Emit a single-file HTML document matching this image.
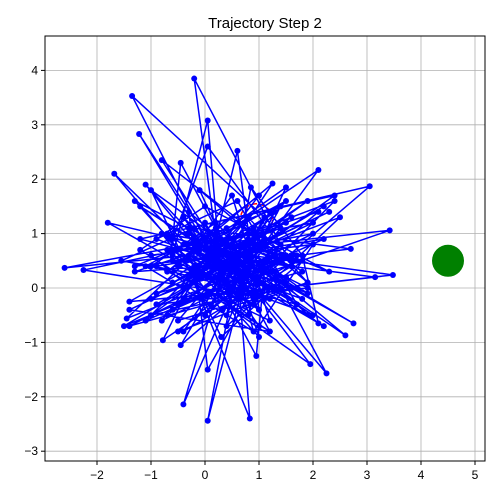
<!DOCTYPE html>
<html><head><meta charset="utf-8"><style>
body{margin:0;background:#fff;}
svg{display:block;font-family:"Liberation Sans",sans-serif;}
</style></head><body>
<svg id="c" width="500" height="500">
<rect width="500" height="500" fill="#fff"/>
<text x="265" y="28" text-anchor="middle" font-size="15">Trajectory Step 2</text>
<g id="grid"></g><g id="marks"></g><g id="ticks"></g>
<rect x="45" y="36" width="440" height="425" fill="none" stroke="#000" stroke-width="1"/>
</svg>
<script>
const xTicks=[-2,-1,0,1,2,3,4,5];
const yTicks=[-3,-2,-1,0,1,2,3,4];
const goal=[4.5,0.5];
const target=[0.95,1.25,0.3];
const xs=[-0.2,0.8,-2.6,-0.3,1.2,-2.25,0.5,1.6,-1.8,0.9,-0.5,-1.68,0.4,1.1,-1.35,0.2,-1.22,0.7,1.4,-0.2,0.3,0.05,-0.6,1.0,0.6,0.2,2.1,0.5,-0.3,3.05,1.2,3.42,0.1,3.48,-0.4,3.15,0.8,2.75,0.0,2.6,1.3,2.25,0.4,1.95,-0.2,0.83,0.6,0.05,0.9,-0.4,0.3,-0.45,1.5,-1.45,0.2,-0.78,1.1,0.95,-0.1,-1.1,0.7,-0.8,1.6,0.05,-0.6,-0.45,0.9,2.5,0.1,2.7,-0.2,-1.55,1.3,-1.4,0.5,1.25,-0.7,1.5,0.4,0.85,1.8,2.1,-0.3,0.05,1.0,-0.9,0.6,1.7,-1.0,0.2,1.4,-0.5,0.8,2.3,0.0,-1.2,1.2,0.5,-0.1,1.9,0.3,-0.8,1.6,0.7,-0.4,1.0,2.0,-1.3,0.4,0.9,-0.2,1.5,0.2,-0.7,1.1,0.6,1.8,-0.5,0.3,1.3,-1.0,0.8,0.1,1.7,-0.3,0.5,1.2,-0.9,2.2,0.4,0.0,1.0,-0.6,1.4,0.7,-0.1,1.9,0.2,-1.1,0.9,0.5,1.6,-0.4,0.3,1.1,0.8,-0.8,1.3,0.0,2.4,0.6,-0.2,1.5,-0.6,1.0,0.4,1.8,-0.3,0.7,1.2,0.1,-1.0,0.9,0.5,1.4,-0.5,2.0,0.2,0.8,-0.1,1.1,0.6,1.7,-0.7,0.3,1.3,0.0,0.9,-0.4,1.6,0.4,1.0,
-1.3,1.9,-0.9,2.2,-1.5,1.7,-0.6,2.4,-1.2,1.5,
0.3,-1.0,1.8,-0.7,2.0,-1.4,1.2,-0.3,2.3,-0.9,
1.6,-1.1,0.8,1.9,-0.5,2.1,-1.3,1.4,-0.8,1.0,
-0.2,1.7,-1.2,2.2,-0.4,1.3,-1.0,1.9,0.1,1.5,
-1.4,2.0,-0.6,1.1,-0.9,2.4,-0.3,1.6,-1.1,0.7];
const ys=[0.3,1.0,0.37,0.6,-0.2,0.33,0.9,0.4,1.2,-0.3,0.7,2.1,0.1,1.3,3.53,0.5,2.83,-0.1,0.8,3.85,0.2,3.08,0.6,-0.4,2.52,0.9,2.17,0.0,1.1,1.87,0.3,1.06,0.7,0.24,-0.2,0.2,0.5,-0.65,0.9,-0.87,0.2,-1.57,0.6,-1.4,0.1,-2.4,0.4,-2.44,0.8,-2.14,0.2,-1.05,0.6,-0.56,1.0,-0.96,0.3,-1.25,0.7,1.9,0.0,2.35,0.5,2.6,0.9,2.3,-0.2,1.3,0.4,0.72,1.1,0.5,0.0,-0.25,0.8,1.92,0.3,1.85,-0.5,1.85,0.6,-0.65,1.4,-1.5,0.2,0.9,1.6,-0.3,0.4,1.2,0.0,-0.6,0.9,0.3,1.5,0.7,-0.8,0.5,1.8,0.1,-0.4,1.0,0.6,0.2,1.3,-0.7,0.8,0.4,1.1,-0.1,0.7,1.6,0.2,-0.5,0.9,1.2,0.3,-0.3,0.8,1.4,-0.2,0.5,1.0,0.0,0.6,1.7,-0.6,0.4,0.9,0.1,1.2,-0.4,0.7,1.5,0.2,0.8,-0.1,1.1,0.4,-0.8,0.6,1.3,0.0,0.9,0.5,-0.5,1.0,0.3,0.7,1.6,-0.2,0.4,1.2,0.1,0.8,-0.7,0.5,1.0,0.2,1.4,-0.3,0.6,0.9,0.0,1.1,0.4,-0.5,0.7,1.3,0.2,0.8,-0.1,0.5,1.0,0.3,0.6];
const ys2=[-0.5,1.1,-0.8,0.4,0.9,-0.9,1.6,0.0,-0.3,1.5,
-0.7,0.6,-0.4,1.7,0.9,0.2,-0.9,1.8,-0.2,0.7,
1.2,-0.4,-0.8,0.2,1.4,-0.1,0.6,-0.6,1.3,0.1,
-0.8,1.4,0.3,0.5,-0.6,1.7,0.8,-0.3,1.5,-0.7,
0.8,0.0,-0.5,1.6,0.4,0.1,-0.7,1.0,0.5,-0.2];
const NS='http://www.w3.org/2000/svg';
const L=45,R=485,T=36,B=461;
function sx(v){return 205+v*54;}
function sy(v){return 288-v*54.4;}
function mk(tag,attrs,parent){const e=document.createElementNS(NS,tag);for(const k in attrs)e.setAttribute(k,attrs[k]);parent.appendChild(e);return e;}
const grid=document.getElementById('grid'),marks=document.getElementById('marks'),ticks=document.getElementById('ticks');
xTicks.forEach(t=>{const x=sx(t);
 const g=mk('line',{x1:x,x2:x,y1:T,y2:B,stroke:'#b0b0b0','stroke-width':0.8},grid);
 
 
 mk('line',{x1:x,x2:x,y1:B,y2:B+4,stroke:'#000'},ticks);
 const tx=mk('text',{x:x,y:B+18,'text-anchor':'middle','font-size':12},ticks);tx.textContent=t<0?'\u2212'+(-t):t;
 
 });
yTicks.forEach(t=>{const y=sy(t);
 const g=mk('line',{x1:L,x2:R,y1:y,y2:y,stroke:'#b0b0b0','stroke-width':0.8},grid);
 
 
 mk('line',{x1:L-4,x2:L,y1:y,y2:y,stroke:'#000'},ticks);
 const tx=mk('text',{x:L-7,y:y+4,'text-anchor':'end','font-size':12},ticks);tx.textContent=t<0?'\u2212'+(-t):t;
 
 });
const tc=mk('circle',{cx:sx(target[0]),cy:sy(target[1]),r:target[2]*54,fill:'none',stroke:'red','stroke-width':1.5,'stroke-dasharray':'5,3'},marks);


const allY=ys.concat(ys2);
const n=Math.min(xs.length,allY.length);
const P=[];for(let i=0;i<n;i++)P.push([xs[i],allY[i]]);
const pl=mk('polyline',{points:P.map(p=>sx(p[0])+','+sy(p[1])).join(' '),fill:'none',stroke:'#0000ff','stroke-width':1.5},marks);


P.forEach(p=>{const c=mk('circle',{cx:sx(p[0]),cy:sy(p[1]),r:3,fill:'#0000ff'},marks);
 
 });
const gc=mk('circle',{cx:sx(goal[0]),cy:sy(goal[1]),r:16,fill:'green'},marks);


</script>
</body></html>
